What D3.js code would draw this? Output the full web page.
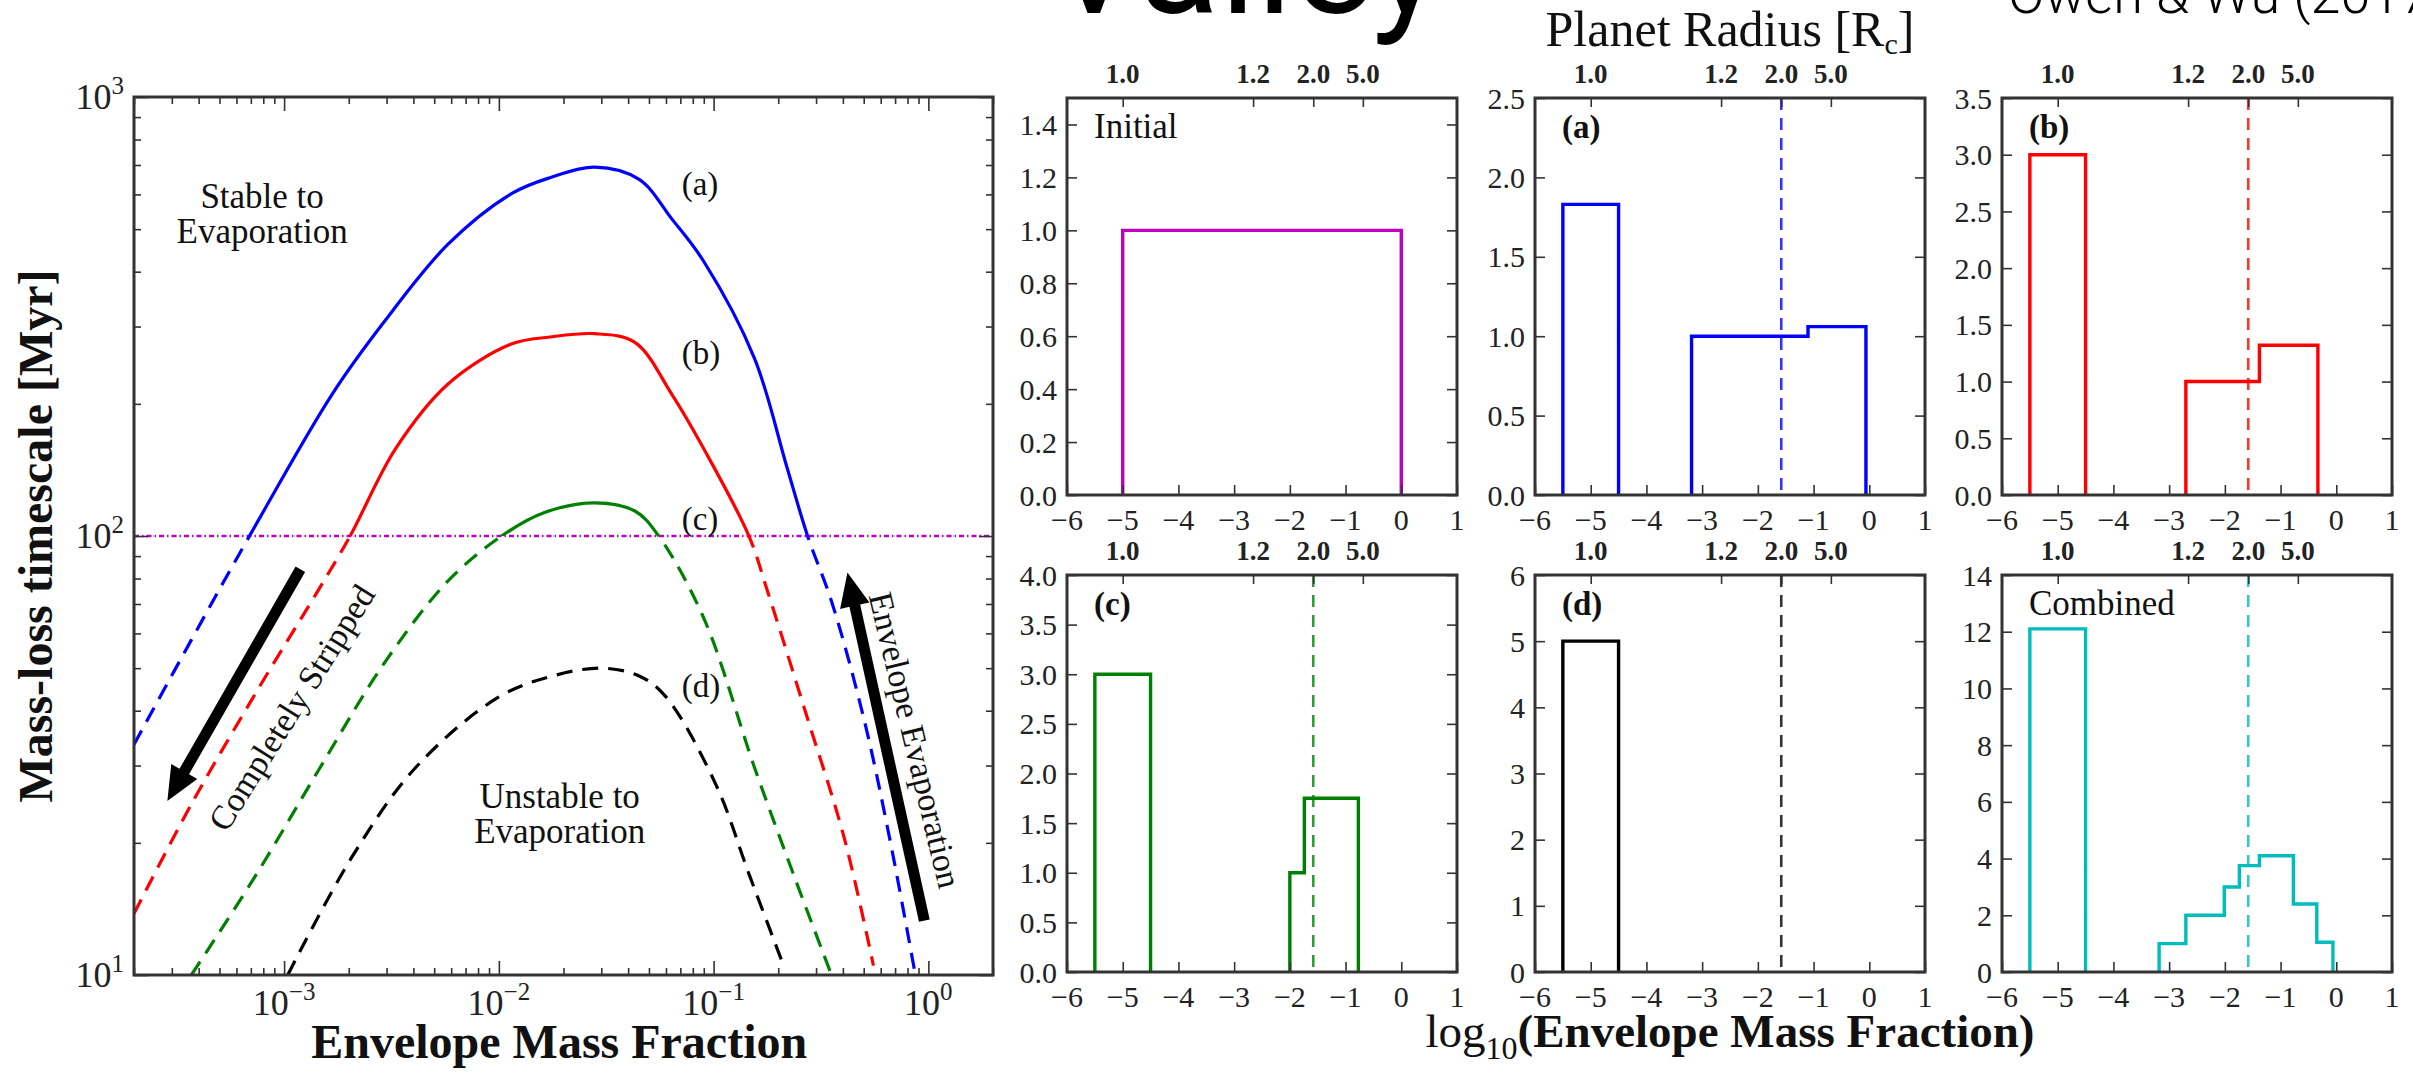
<!DOCTYPE html>
<html>
<head>
<meta charset="utf-8">
<script src="https://cdn.jsdelivr.net/npm/d3@7"></script>
<style>
  html, body { margin: 0; padding: 0; background: #fff; }
  svg { display: block; }
  text { font-family: "Liberation Serif", "DejaVu Serif", serif; fill: #111; }
</style>
</head>
<body>
<svg id="chart" width="2413" height="1073"></svg>
<script>
// ---------- left panel data: mass-loss timescale vs envelope mass fraction ----------
const massFracDomain = [2e-4, 2];
const timeDomain = [10, 1000];
const threshold = 100; // Myr, solid above, dashed below

// [envelope mass fraction, timescale in Myr]
const curveA = [[2.0e-4, 33.5], [3.7e-4, 58], [6.9e-4, 100], [1.67e-3, 210], [2.9e-3, 306], [5.8e-3, 462],
  [1.15e-2, 603], [1.73e-2, 655], [2.8e-2, 692], [4.5e-2, 649], [6.4e-2, 527], [9.0e-2, 422],
  [0.155, 254], [0.219, 144], [0.274, 100], [0.354, 71], [0.50, 38.5], [0.66, 20.5], [0.87, 10]];
const curveB = [[2.0e-4, 13.8], [3.7e-4, 24.5], [7.4e-4, 44], [1.46e-3, 76], [2.03e-3, 100], [3.3e-3, 158],
  [5.8e-3, 222], [1.15e-2, 274], [1.73e-2, 284], [2.8e-2, 289], [4.3e-2, 276], [6.4e-2, 210],
  [9.0e-2, 158], [0.146, 100], [0.178, 75], [0.271, 39], [0.406, 20.5], [0.555, 10.5]];
const curveC = [[3.7e-4, 10], [7.4e-4, 16.9], [1.46e-3, 29.5], [2.9e-3, 51], [5.8e-3, 79], [1.03e-2, 100],
  [1.62e-2, 113], [2.8e-2, 119], [4.3e-2, 114], [5.55e-2, 100], [9.0e-2, 65], [0.155, 29.7],
  [0.235, 17], [0.354, 10]];
const curveD = [[1.04e-3, 10], [2.06e-3, 18.5], [4.1e-3, 29.7], [1.0e-2, 43], [1.78e-2, 48], [3.0e-2, 50],
  [4.5e-2, 48], [6.0e-2, 43], [0.103, 27], [0.146, 17], [0.212, 10.5]];
const curveNames = ["(a)", "(b)", "(c)", "(d)"];
const curveColors = ["#0000ff", "#ff0000", "#008000", "#000000"];
const curveLabelX = 0.071;
const curveLabelY = [598, 247, 103, 43];

const xMajor = [1e-3, 1e-2, 1e-1, 1];
const xMajorExp = ["−3", "−2", "−1", "0"];
const yMajor = [10, 100, 1000];
const yMajorExp = ["1", "2", "3"];

// ---------- right panels data: histograms in log10(envelope mass fraction) ----------
const edgesInitial = [-5, 0];
const countsInitial = [1.0];
const edgesA = [-5.5, -4.5, -3.19, -1.10, -0.06];
const countsA = [1.83, 0, 1.0, 1.06];
const edgesB = [-5.5, -4.5, -2.70, -1.38, -0.33];
const countsB = [3.0, 0, 1.0, 1.32];
const edgesC = [-5.5, -4.5, -2.0, -1.74, -0.77];
const countsC = [3.0, 0, 1.0, 1.75];
const edgesD = [-5.5, -4.5];
const countsD = [5.0];
const edgesComb = [-5.5, -4.5, -3.18, -2.70, -2.01, -1.74, -1.38, -0.77, -0.35, -0.06];
const countsComb = [12.1, 0, 1.0, 2.0, 3.0, 3.75, 4.1, 2.4, 1.05];

const logTicks = [-6, -5, -4, -3, -2, -1, 0, 1];
const radiusTickPos = [-5, -2.66, -1.58, -0.69];
const radiusTickLabels = ["1.0", "1.2", "2.0", "5.0"];
const valleyLogX = -1.58;

const yTicksInitial = [0, 0.2, 0.4, 0.6, 0.8, 1.0, 1.2, 1.4];
const yTicksA = [0, 0.5, 1.0, 1.5, 2.0, 2.5];
const yTicksB = [0, 0.5, 1.0, 1.5, 2.0, 2.5, 3.0, 3.5];
const yTicksC = [0, 0.5, 1.0, 1.5, 2.0, 2.5, 3.0, 3.5, 4.0];
const yTicksD = [0, 1, 2, 3, 4, 5, 6];
const yTicksComb = [0, 2, 4, 6, 8, 10, 12, 14];

const svg = d3.select("#chart");
const defs = svg.append("defs");

// ---------- slide text cut by the top edge ----------
svg.append("text")
  .attr("x", 1046).attr("y", 13)
  .style("font-family", "Roboto, 'Open Sans', sans-serif")
  .style("font-size", "150px")
  .style("fill", "#000")
  .text("Valley");

svg.append("text")
  .attr("x", 2008).attr("y", 13)
  .style("font-family", "Roboto, 'Open Sans', sans-serif")
  .style("font-weight", 300)
  .style("font-size", "54px")
  .style("fill", "#000")
  .text("Owen & Wu (2017)");

// ---------- helpers ----------
function tickSet(g, axisFn, scale, values, size, transform) {
  g.append("g")
    .attr("transform", transform)
    .call(axisFn(scale).tickValues(values).tickSize(-size).tickFormat(""))
    .call(a => a.select(".domain").remove())
    .selectAll("line")
    .attr("stroke", "#333")
    .attr("stroke-width", 1.6);
}

function powerLabel(g, x, y, exp, anchor) {
  const t = g.append("text")
    .attr("x", x).attr("y", y)
    .attr("text-anchor", anchor)
    .style("font-size", "36px")
    .style("fill", "#222");
  t.append("tspan").text("10");
  t.append("tspan").attr("dy", -15).style("font-size", "25px").text(exp);
}

// ---------- left panel ----------
const L = { x: 134, y: 97, w: 859, h: 878 };
const gL = svg.append("g");

const xLog = d3.scaleLog().domain(massFracDomain).range([L.x, L.x + L.w]);
const yLog = d3.scaleLog().domain(timeDomain).range([L.y + L.h, L.y]);

defs.append("clipPath").attr("id", "clipAbove").append("rect")
  .attr("x", L.x).attr("y", L.y)
  .attr("width", L.w).attr("height", yLog(threshold) - L.y);
defs.append("clipPath").attr("id", "clipBelow").append("rect")
  .attr("x", L.x).attr("y", yLog(threshold))
  .attr("width", L.w).attr("height", L.y + L.h - yLog(threshold));

// threshold line
gL.append("line")
  .attr("x1", L.x).attr("x2", L.x + L.w)
  .attr("y1", yLog(threshold)).attr("y2", yLog(threshold))
  .attr("stroke", "#c000c0")
  .attr("stroke-width", 2.6)
  .attr("stroke-dasharray", "5,3,1.5,3");

const line = d3.line()
  .x(d => xLog(d[0]))
  .y(d => yLog(d[1]))
  .curve(d3.curveCatmullRom.alpha(0.5));

[curveA, curveB, curveC, curveD].forEach((c, i) => {
  gL.append("path")
    .attr("d", line(c))
    .attr("clip-path", "url(#clipAbove)")
    .attr("fill", "none")
    .attr("stroke", curveColors[i])
    .attr("stroke-width", 3.2);
  gL.append("path")
    .attr("d", line(c))
    .attr("clip-path", "url(#clipBelow)")
    .attr("fill", "none")
    .attr("stroke", curveColors[i])
    .attr("stroke-width", 3.2)
    .attr("stroke-dasharray", "16,10");
  gL.append("text")
    .attr("x", xLog(curveLabelX)).attr("y", yLog(curveLabelY[i]))
    .style("font-size", "33px")
    .text(curveNames[i]);
});

// region annotations
const regionText = [
  { lines: ["Stable to", "Evaporation"], x: 7.9e-4, y: 559 },
  { lines: ["Unstable to", "Evaporation"], x: 1.92e-2, y: 24 }
];
regionText.forEach(r => {
  r.lines.forEach((s, k) => {
    gL.append("text")
      .attr("x", xLog(r.x)).attr("y", yLog(r.y) + k * 35)
      .attr("text-anchor", "middle")
      .style("font-size", "35px")
      .text(s);
  });
});

// arrows (data coordinates of tail and tip)
const arrows = [
  { from: [1.19e-3, 84], to: [2.86e-4, 24.9] },
  { from: [0.958, 13.3], to: [0.42, 82.6] }
];
arrows.forEach(a => {
  const x1 = xLog(a.from[0]), y1 = yLog(a.from[1]);
  const x2 = xLog(a.to[0]), y2 = yLog(a.to[1]);
  const len = Math.hypot(x2 - x1, y2 - y1);
  const ux = (x2 - x1) / len, uy = (y2 - y1) / len;
  const px = -uy, py = ux;
  const sw = 5.5, hw = 15, hl = 34;
  const bx = x2 - ux * hl, by = y2 - uy * hl;
  const pts = [
    [x1 + px * sw, y1 + py * sw], [bx + px * sw, by + py * sw], [bx + px * hw, by + py * hw],
    [x2, y2],
    [bx - px * hw, by - py * hw], [bx - px * sw, by - py * sw], [x1 - px * sw, y1 - py * sw]
  ];
  gL.append("polygon")
    .attr("points", pts.map(p => p.join(",")).join(" "))
    .attr("fill", "#000");
});

const rotatedText = [
  { text: "Completely Stripped", x: 1.08e-3, y: 40.7, angle: -58 },
  { text: "Envelope Evaporation", x: 0.87, y: 34.3, angle: 76.5 }
];
rotatedText.forEach(r => {
  gL.append("text")
    .attr("transform", `translate(${xLog(r.x)},${yLog(r.y)}) rotate(${r.angle})`)
    .attr("text-anchor", "middle")
    .attr("dy", "0.35em")
    .style("font-size", "34px")
    .text(r.text);
});

// ticks on all four sides
const xMinor = [];
[-4, -3, -2, -1, 0].forEach(e => d3.range(2, 10).forEach(m => {
  const v = m * Math.pow(10, e);
  if (v >= massFracDomain[0] && v <= massFracDomain[1]) xMinor.push(v);
}));
const yMinor = [];
[1, 2].forEach(e => d3.range(2, 10).forEach(m => yMinor.push(m * Math.pow(10, e))));

tickSet(gL, d3.axisBottom, xLog, xMajor, 14, `translate(0,${L.y + L.h})`);
tickSet(gL, d3.axisBottom, xLog, xMinor, 7, `translate(0,${L.y + L.h})`);
tickSet(gL, d3.axisTop, xLog, xMajor, 14, `translate(0,${L.y})`);
tickSet(gL, d3.axisTop, xLog, xMinor, 7, `translate(0,${L.y})`);
tickSet(gL, d3.axisLeft, yLog, yMajor, 14, `translate(${L.x},0)`);
tickSet(gL, d3.axisLeft, yLog, yMinor, 7, `translate(${L.x},0)`);
tickSet(gL, d3.axisRight, yLog, yMajor, 14, `translate(${L.x + L.w},0)`);
tickSet(gL, d3.axisRight, yLog, yMinor, 7, `translate(${L.x + L.w},0)`);

gL.append("rect")
  .attr("x", L.x).attr("y", L.y).attr("width", L.w).attr("height", L.h)
  .attr("fill", "none").attr("stroke", "#333").attr("stroke-width", 3);

xMajor.forEach((v, i) => powerLabel(gL, xLog(v), L.y + L.h + 40, xMajorExp[i], "middle"));
yMajor.forEach((v, i) => powerLabel(gL, L.x - 10, yLog(v) + 12, yMajorExp[i], "end"));

gL.append("text")
  .attr("x", L.x + L.w * 0.495).attr("y", 1058)
  .attr("text-anchor", "middle")
  .style("font-size", "48px").style("font-weight", "bold")
  .text("Envelope Mass Fraction");

gL.append("text")
  .attr("transform", `translate(52,${L.y + L.h / 2}) rotate(-90)`)
  .attr("text-anchor", "middle")
  .style("font-size", "48px").style("font-weight", "bold")
  .text("Mass-loss timescale [Myr]");

// ---------- histogram panels ----------
const panelCols = [1067, 1535, 2002];
const panelRows = [98, 575];
const PW = 390, PH = 397;

const panels = [
  { name: "Initial", tagBold: false, edges: edgesInitial, counts: countsInitial, color: "#c000c0", yMax: 1.5, ticks: yTicksInitial, fmt: d3.format(".1f"), valley: false },
  { name: "(a)", tagBold: true, edges: edgesA, counts: countsA, color: "#0000ff", yMax: 2.5, ticks: yTicksA, fmt: d3.format(".1f"), valley: true },
  { name: "(b)", tagBold: true, edges: edgesB, counts: countsB, color: "#ff0000", yMax: 3.5, ticks: yTicksB, fmt: d3.format(".1f"), valley: true },
  { name: "(c)", tagBold: true, edges: edgesC, counts: countsC, color: "#008000", yMax: 4.0, ticks: yTicksC, fmt: d3.format(".1f"), valley: true },
  { name: "(d)", tagBold: true, edges: edgesD, counts: countsD, color: "#000000", yMax: 6, ticks: yTicksD, fmt: d3.format("d"), valley: true },
  { name: "Combined", tagBold: false, edges: edgesComb, counts: countsComb, color: "#00bcbc", yMax: 14, ticks: yTicksComb, fmt: d3.format("d"), valley: true }
];

function stepPath(edges, counts, x, y) {
  let d = "";
  let open = false;
  counts.forEach((c, i) => {
    if (c <= 0) return;
    if (!open) { d += `M${x(edges[i])},${y(0)}`; open = true; }
    d += `V${y(c)}H${x(edges[i + 1])}`;
    if (i === counts.length - 1 || counts[i + 1] <= 0) { d += `V${y(0)}`; open = false; }
  });
  return d;
}

panels.forEach((p, i) => {
  const px = panelCols[i % 3];
  const py = panelRows[Math.floor(i / 3)];
  const g = svg.append("g");

  const x = d3.scaleLinear().domain([-6, 1]).range([px, px + PW]);
  const y = d3.scaleLinear().domain([0, p.yMax]).range([py + PH, py]);

  if (p.valley) {
    g.append("line")
      .attr("x1", x(valleyLogX)).attr("x2", x(valleyLogX))
      .attr("y1", py).attr("y2", py + PH)
      .attr("stroke", p.color)
      .attr("stroke-opacity", 0.8)
      .attr("stroke-width", 2.6)
      .attr("stroke-dasharray", "12,8");
  }

  g.append("path")
    .attr("d", stepPath(p.edges, p.counts, x, y))
    .attr("fill", "none")
    .attr("stroke", p.color)
    .attr("stroke-width", 3.4)
    .attr("stroke-linejoin", "miter");

  tickSet(g, d3.axisBottom, x, logTicks, 10, `translate(0,${py + PH})`);
  tickSet(g, d3.axisTop, x, radiusTickPos, 9, `translate(0,${py})`);
  tickSet(g, d3.axisLeft, y, p.ticks, 10, `translate(${px},0)`);
  tickSet(g, d3.axisRight, y, p.ticks, 10, `translate(${px + PW},0)`);

  g.append("rect")
    .attr("x", px).attr("y", py).attr("width", PW).attr("height", PH)
    .attr("fill", "none").attr("stroke", "#333").attr("stroke-width", 3);

  // y tick labels
  p.ticks.forEach(v => {
    g.append("text")
      .attr("x", px - 10).attr("y", y(v))
      .attr("dy", "0.35em")
      .attr("text-anchor", "end")
      .style("font-size", "30px").style("fill", "#222")
      .text(p.fmt(v));
  });
  // bottom tick labels
  logTicks.forEach(v => {
    g.append("text")
      .attr("x", x(v)).attr("y", py + PH + 35)
      .attr("text-anchor", "middle")
      .style("font-size", "30px").style("fill", "#222")
      .text(v < 0 ? "−" + Math.abs(v) : String(v));
  });
  // top radius labels
  radiusTickPos.forEach((v, k) => {
    g.append("text")
      .attr("x", x(v)).attr("y", py - 15)
      .attr("text-anchor", "middle")
      .style("font-size", "27px").style("font-weight", "bold").style("fill", "#222")
      .text(radiusTickLabels[k]);
  });

  g.append("text")
    .attr("x", px + 27).attr("y", py + 40)
    .style("font-size", p.tagBold ? "33px" : "35px")
    .style("font-weight", p.tagBold ? "bold" : "normal")
    .text(p.name);
});

// shared titles for the histogram grid
const topTitle = svg.append("text")
  .attr("x", panelCols[1] + PW / 2).attr("y", 46)
  .attr("text-anchor", "middle")
  .style("font-size", "50px");
topTitle.append("tspan").text("Planet Radius [R");
topTitle.append("tspan").attr("dy", 8).style("font-size", "30px").text("c");
topTitle.append("tspan").attr("dy", -8).text("]");

const bottomTitle = svg.append("text")
  .attr("x", panelCols[1] + PW / 2).attr("y", 1047)
  .attr("text-anchor", "middle")
  .style("font-size", "47px");
bottomTitle.append("tspan").text("log");
bottomTitle.append("tspan").attr("dy", 12).style("font-size", "32px").text("10");
bottomTitle.append("tspan").attr("dy", -12).style("font-weight", "bold").text("(Envelope Mass Fraction)");
</script>
</body>
</html>
